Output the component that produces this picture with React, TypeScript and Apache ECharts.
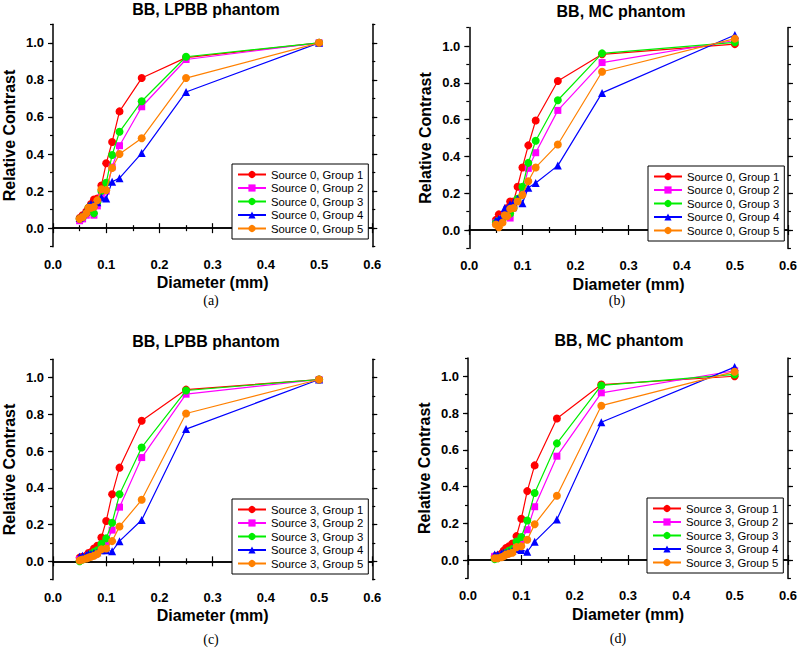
import React, { useEffect, useRef } from "react";
import * as echarts from "echarts";

// Diameters (mm) of the BB groups, x values
const diameters = [0.5, 0.25, 0.1667, 0.125, 0.1111, 0.1, 0.0909, 0.0833, 0.0769, 0.0714, 0.0667, 0.0625, 0.0556, 0.05];

// (a) BB, LPBB phantom, Source 0 — groups 1..5
const lpbbS0G1 = [1.0, 0.92, 0.81, 0.63, 0.465, 0.35, 0.23, 0.16, 0.155, 0.13, 0.11, 0.09, 0.07, 0.055];
const lpbbS0G2 = [1.0, 0.91, 0.655, 0.445, 0.33, 0.2, 0.17, 0.12, 0.07, 0.1, 0.09, 0.07, 0.05, 0.04];
const lpbbS0G3 = [1.0, 0.925, 0.685, 0.52, 0.395, 0.245, 0.2, 0.14, 0.08, 0.12, 0.11, 0.08, 0.06, 0.05];
const lpbbS0G4 = [1.0, 0.735, 0.405, 0.27, 0.25, 0.16, 0.165, 0.14, 0.13, 0.13, 0.12, 0.09, 0.07, 0.055];
const lpbbS0G5 = [1.0, 0.81, 0.485, 0.4, 0.325, 0.205, 0.21, 0.15, 0.115, 0.11, 0.11, 0.08, 0.06, 0.05];

// (b) BB, MC phantom, Source 0
const mcS0G1 = [1.01, 0.955, 0.81, 0.595, 0.46, 0.34, 0.235, 0.155, 0.155, 0.12, 0.09, 0.08, 0.085, 0.055];
const mcS0G2 = [1.03, 0.91, 0.65, 0.42, 0.335, 0.2, 0.16, 0.12, 0.065, 0.09, 0.08, 0.06, 0.05, 0.04];
const mcS0G3 = [1.02, 0.96, 0.705, 0.485, 0.365, 0.235, 0.17, 0.12, 0.09, 0.1, 0.08, 0.06, 0.05, 0.04];
const mcS0G4 = [1.06, 0.745, 0.35, 0.255, 0.23, 0.145, 0.17, 0.15, 0.14, 0.12, 0.12, 0.08, 0.06, 0.05];
const mcS0G5 = [1.04, 0.86, 0.465, 0.34, 0.265, 0.19, 0.155, 0.12, 0.115, 0.075, 0.08, 0.04, 0.015, 0.03];

// (c) BB, LPBB phantom, Source 3
const lpbbS3G1 = [0.99, 0.935, 0.765, 0.51, 0.365, 0.22, 0.13, 0.085, 0.07, 0.05, 0.045, 0.03, 0.025, 0.02];
const lpbbS3G2 = [0.99, 0.91, 0.565, 0.295, 0.17, 0.1, 0.07, 0.05, 0.035, 0.03, 0.03, 0.02, 0.015, 0.01];
const lpbbS3G3 = [0.99, 0.93, 0.62, 0.365, 0.21, 0.125, 0.095, 0.06, 0.05, 0.04, 0.03, 0.02, 0.01, 0.0];
const lpbbS3G4 = [0.99, 0.72, 0.225, 0.11, 0.055, 0.06, 0.06, 0.05, 0.045, 0.04, 0.04, 0.035, 0.03, 0.025];
const lpbbS3G5 = [0.99, 0.805, 0.335, 0.19, 0.11, 0.07, 0.065, 0.04, 0.03, 0.025, 0.02, 0.015, 0.01, 0.005];

// (d) BB, MC phantom, Source 3
const mcS3G1 = [1.0, 0.955, 0.77, 0.515, 0.375, 0.225, 0.13, 0.09, 0.075, 0.065, 0.05, 0.035, 0.025, 0.02];
const mcS3G2 = [1.03, 0.91, 0.565, 0.29, 0.165, 0.11, 0.07, 0.05, 0.04, 0.03, 0.03, 0.02, 0.015, 0.02];
const mcS3G3 = [1.01, 0.95, 0.635, 0.365, 0.215, 0.125, 0.1, 0.06, 0.05, 0.04, 0.03, 0.02, 0.01, 0.005];
const mcS3G4 = [1.05, 0.75, 0.22, 0.1, 0.045, 0.055, 0.06, 0.05, 0.045, 0.04, 0.04, 0.035, 0.03, 0.03];
const mcS3G5 = [1.025, 0.84, 0.35, 0.195, 0.11, 0.075, 0.07, 0.04, 0.035, 0.03, 0.02, 0.015, 0.01, 0.01];

const panelTitles = ["BB, LPBB phantom", "BB, MC phantom", "BB, LPBB phantom", "BB, MC phantom"];
const panelCaptions = ["(a)", "(b)", "(c)", "(d)"];
const panelSources = [0, 0, 3, 3];
const panelData = [
  [lpbbS0G1, lpbbS0G2, lpbbS0G3, lpbbS0G4, lpbbS0G5],
  [mcS0G1, mcS0G2, mcS0G3, mcS0G4, mcS0G5],
  [lpbbS3G1, lpbbS3G2, lpbbS3G3, lpbbS3G4, lpbbS3G5],
  [mcS3G1, mcS3G2, mcS3G3, mcS3G4, mcS3G5],
];
const xTicks = [0, 0.6, 0.1];
const yTicks = [-0.1, 1.1, 0.1];
const yMajorTicks = [0, 0.2, 0.4, 0.6, 0.8, 1.0];
const xAxisName = "Diameter (mm)";
const yAxisName = "Relative Contrast";

const groupColors = ["#ff0000", "#ff00ff", "#00ee00", "#0000ff", "#ff8000"];
const groupSymbols = ["circle", "rect", "circle", "triangle", "circle"];
const groupSymbolSizes = [8, 7, 8, 8, 8];

// Layout (pixels)
const grids = [
  { left: 51.7, top: 24.3, width: 320.6, height: 222.4 },
  { left: 469.3, top: 27.6, width: 320.7, height: 220.8 },
  { left: 51.7, top: 359.3, width: 320.6, height: 220.4 },
  { left: 468, top: 357.9, width: 320, height: 220.5 },
];
const legendPos = [
  { left: 232, top: 164 },
  { left: 648, top: 166 },
  { left: 232, top: 499 },
  { left: 647, top: 498 },
];
const titlePos = [
  [206, 9],
  [621, 11],
  [206, 341],
  [619, 340.5],
];
const captionPos = [
  [211, 300],
  [617, 300],
  [211, 639],
  [618, 638],
];

const FONT = "Liberation Sans";

export default function App() {
  const ref = useRef<HTMLDivElement>(null);
  useEffect(() => {
    if (!ref.current) return;
    const chart = echarts.init(ref.current, null, { renderer: "svg" });

    const axisLine = { show: true, lineStyle: { color: "#000", width: 1.5 } };
    const xAxes: any[] = [];
    const yAxes: any[] = [];
    const series: any[] = [];
    const legends: any[] = [];
    const graphics: any[] = [];

    grids.forEach((g, p) => {
      // bottom x axis
      xAxes.push({
        type: "value",
        gridIndex: p,
        position: "bottom",
        min: xTicks[0],
        max: xTicks[1],
        interval: xTicks[2],
        axisLine,
        axisTick: { show: true, inside: false, length: 5, lineStyle: { color: "#000", width: 1.2 } },
        minorTick: { show: true, splitNumber: 2, length: 3, lineStyle: { color: "#000", width: 1.2 } },
        splitLine: { show: false },
        axisLabel: {
          show: true,
          margin: 11,
          color: "#000",
          fontFamily: FONT,
          fontWeight: "bold",
          fontSize: 13,
          formatter: (v: number) => v.toFixed(1),
        },
        name: xAxisName,
        nameLocation: "middle",
        nameGap: 28,
        nameTextStyle: { color: "#000", fontFamily: FONT, fontWeight: "bold", fontSize: 16 },
      });
      // top x axis (frame)
      xAxes.push({
        type: "value",
        gridIndex: p,
        position: "top",
        min: xTicks[0],
        max: xTicks[1],
        interval: xTicks[2],
        axisLine,
        axisTick: { show: true, inside: false, length: 5, lineStyle: { color: "#000", width: 1.2 } },
        minorTick: { show: true, splitNumber: 2, length: 3, lineStyle: { color: "#000", width: 1.2 } },
        splitLine: { show: false },
        axisLabel: { show: false },
      });
      const yBase = {
        type: "value",
        gridIndex: p,
        min: yTicks[0],
        max: yTicks[1],
        interval: yTicks[2],
        splitLine: { show: false },
      };
      // left y axis with minor ticks + labels
      yAxes.push({
        ...yBase,
        position: "left",
        axisLine,
        axisTick: { show: true, inside: false, length: 3, lineStyle: { color: "#000", width: 1.2 } },
        axisLabel: {
          show: true,
          margin: 9,
          color: "#000",
          fontFamily: FONT,
          fontWeight: "bold",
          fontSize: 13,
          formatter: (v: number) => (Math.abs(Math.round(v * 10)) % 2 === 0 ? v.toFixed(1) : ""),
        },
        name: yAxisName,
        nameLocation: "middle",
        nameGap: 36,
        nameRotate: 90,
        nameTextStyle: { color: "#000", fontFamily: FONT, fontWeight: "bold", fontSize: 16 },
      });
      // left major ticks
      yAxes.push({
        ...yBase,
        position: "left",
        axisLine: { show: false },
        axisTick: { show: true, inside: false, length: 5, customValues: yMajorTicks, lineStyle: { color: "#000", width: 1.2 } },
        axisLabel: { show: false },
      });
      // right y axis (frame) minor ticks
      yAxes.push({
        ...yBase,
        position: "right",
        axisLine,
        axisTick: { show: true, inside: false, length: 3, lineStyle: { color: "#000", width: 1.2 } },
        axisLabel: { show: false },
      });
      // right major ticks
      yAxes.push({
        ...yBase,
        position: "right",
        axisLine: { show: false },
        axisTick: { show: true, inside: false, length: 5, customValues: yMajorTicks, lineStyle: { color: "#000", width: 1.2 } },
        axisLabel: { show: false },
      });

      const names: string[] = [];
      panelData[p].forEach((vals, gi) => {
        const name = `Source ${panelSources[p]}, Group ${gi + 1}`;
        names.push(name);
        series.push({
          type: "line",
          name,
          xAxisIndex: p * 2,
          yAxisIndex: p * 4,
          data: diameters.map((d, i) => [d, vals[i]]),
          symbol: groupSymbols[gi],
          symbolSize: groupSymbolSizes[gi],
          showSymbol: true,
          color: groupColors[gi],
          itemStyle: { color: groupColors[gi] },
          lineStyle: { color: groupColors[gi], width: 1.2 },
          z: 2 + gi,
        });
      });

      legends.push({
        data: names,
        orient: "vertical",
        left: legendPos[p].left,
        top: legendPos[p].top,
        itemWidth: 28,
        itemHeight: 9,
        itemGap: 2.5,
        padding: [5, 5, 5, 5],
        borderColor: "#000",
        borderWidth: 1,
        backgroundColor: "#fff",
        selectedMode: false,
        lineStyle: { width: 2 },
        textStyle: { color: "#000", fontFamily: FONT, fontSize: 11.3, lineHeight: 11 },
      });

      graphics.push({
        type: "text",
        x: titlePos[p][0],
        y: titlePos[p][1],
        style: {
          text: panelTitles[p],
          fill: "#000",
          font: `bold 16px "${FONT}"`,
          align: "center",
          verticalAlign: "middle",
        },
      });
      graphics.push({
        type: "text",
        x: captionPos[p][0],
        y: captionPos[p][1],
        style: {
          text: panelCaptions[p],
          fill: "#000",
          font: `14px "Liberation Serif"`,
          align: "center",
          verticalAlign: "middle",
        },
      });
    });

    chart.setOption({
      animation: false,
      backgroundColor: "#fff",
      grid: grids.map((g) => ({ ...g, containLabel: false })),
      xAxis: xAxes,
      yAxis: yAxes,
      legend: legends,
      series,
      graphic: graphics,
    });
    return () => chart.dispose();
  }, []);
  return (
    <div
      ref={ref}
      style={{ position: "absolute", left: 0, top: 0, width: 800, height: 650, background: "#fff" }}
    />
  );
}
